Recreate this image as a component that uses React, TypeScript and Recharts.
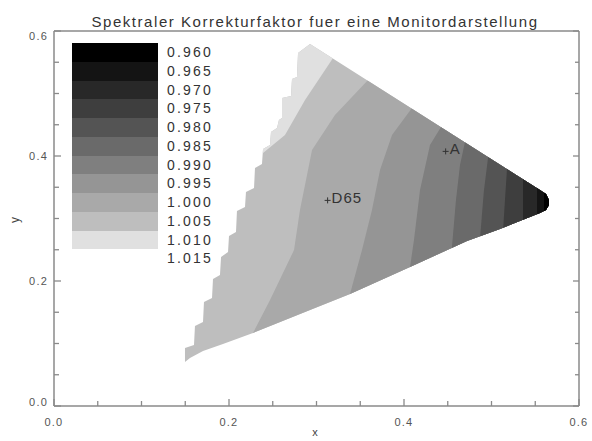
import React from 'react';
import { ScatterChart, Scatter, XAxis, YAxis } from 'recharts';

type Pt = { x: number; y: number };

const chartTitle = 'Spektraler Korrekturfaktor fuer eine Monitordarstellung';
const xAxisTitle = 'x';
const yAxisTitle = 'y';

// legend levels (top to bottom) and their grey fills
const levelLabels = ['0.960', '0.965', '0.970', '0.975', '0.980', '0.985', '0.990', '0.995', '1.000', '1.005', '1.010', '1.015'];
const levelGrays = ['#000000', '#141414', '#282828', '#3e3e3e', '#545454', '#6a6a6a', '#7f7f7f', '#959595', '#a9a9a9', '#bebebe', '#e0e0e0', '#ffffff'];

const axisTickValues = [0, 0.05, 0.1, 0.15, 0.2, 0.25, 0.3, 0.35, 0.4, 0.45, 0.5, 0.55, 0.6];
const labeledTickValues = [0, 0.2, 0.4, 0.6];

// monitor gamut outline (CIE x, y), stepped left edge
const gamutOutline: Pt[] = [
  { x: 0.2926, y: 0.5792 },
  { x: 0.5554, y: 0.3456 },
  { x: 0.5623, y: 0.3392 },
  { x: 0.5657, y: 0.3296 },
  { x: 0.5657, y: 0.3216 },
  { x: 0.5623, y: 0.3136 },
  { x: 0.5554, y: 0.3088 },
  { x: 0.5097, y: 0.2832 },
  { x: 0.472, y: 0.264 },
  { x: 0.4069, y: 0.2224 },
  { x: 0.3383, y: 0.1792 },
  { x: 0.2926, y: 0.1536 },
  { x: 0.2274, y: 0.1168 },
  { x: 0.1931, y: 0.0992 },
  { x: 0.1703, y: 0.088 },
  { x: 0.1554, y: 0.0768 },
  { x: 0.1497, y: 0.0704 },
  { x: 0.1497, y: 0.0928 },
  { x: 0.16, y: 0.0976 },
  { x: 0.1611, y: 0.128 },
  { x: 0.1703, y: 0.1344 },
  { x: 0.1714, y: 0.1664 },
  { x: 0.1806, y: 0.1728 },
  { x: 0.1817, y: 0.2032 },
  { x: 0.1897, y: 0.2096 },
  { x: 0.1909, y: 0.2384 },
  { x: 0.1989, y: 0.2464 },
  { x: 0.2, y: 0.272 },
  { x: 0.208, y: 0.2784 },
  { x: 0.2091, y: 0.312 },
  { x: 0.2183, y: 0.3184 },
  { x: 0.2194, y: 0.3424 },
  { x: 0.2286, y: 0.3488 },
  { x: 0.2297, y: 0.3808 },
  { x: 0.2377, y: 0.3872 },
  { x: 0.2389, y: 0.4112 },
  { x: 0.2469, y: 0.4176 },
  { x: 0.248, y: 0.4384 },
  { x: 0.2549, y: 0.4448 },
  { x: 0.2571, y: 0.4576 },
  { x: 0.2606, y: 0.4608 },
  { x: 0.2606, y: 0.4928 },
  { x: 0.2709, y: 0.496 },
  { x: 0.272, y: 0.5232 },
  { x: 0.2777, y: 0.5264 },
  { x: 0.2789, y: 0.5648 },
];

// region above the 1.010 / 1.005 contour (near the green primary)
const region1010: Pt[] = [
  { x: 0.3326, y: 0.5776 },
  { x: 0.3189, y: 0.5568 },
  { x: 0.2869, y: 0.4896 },
  { x: 0.264, y: 0.4336 },
  { x: 0.2389, y: 0.4048 },
  { x: 0.2, y: 0.4048 },
  { x: 0.2, y: 0.6 },
  { x: 0.3326, y: 0.6 },
];

// contour lines, from the upper edge down to the lower edge
const contour1000: Pt[] = [
  { x: 0.3726, y: 0.5408 }, { x: 0.3589, y: 0.5216 }, { x: 0.3211, y: 0.4656 }, { x: 0.2949, y: 0.4096 },
  { x: 0.2811, y: 0.3136 }, { x: 0.2743, y: 0.2496 }, { x: 0.2469, y: 0.1696 }, { x: 0.2274, y: 0.1168 }, { x: 0.2126, y: 0.0736 },
];
const contour0995: Pt[] = [
  { x: 0.424, y: 0.4896 }, { x: 0.4091, y: 0.4768 }, { x: 0.3863, y: 0.4336 }, { x: 0.3726, y: 0.3776 },
  { x: 0.3634, y: 0.3136 }, { x: 0.352, y: 0.2496 }, { x: 0.3383, y: 0.1792 }, { x: 0.3326, y: 0.1456 },
];
const contour0990: Pt[] = [
  { x: 0.4526, y: 0.4656 }, { x: 0.4423, y: 0.4464 }, { x: 0.4297, y: 0.4176 }, { x: 0.4183, y: 0.3456 },
  { x: 0.4114, y: 0.2656 }, { x: 0.4069, y: 0.2224 }, { x: 0.4046, y: 0.1936 },
];
const contour0985: Pt[] = [
  { x: 0.4777, y: 0.4416 }, { x: 0.4697, y: 0.4224 }, { x: 0.464, y: 0.3856 }, { x: 0.4594, y: 0.3296 },
  { x: 0.4549, y: 0.256 }, { x: 0.4537, y: 0.2304 },
];
const contour0980: Pt[] = [
  { x: 0.5006, y: 0.4176 }, { x: 0.496, y: 0.3968 }, { x: 0.4914, y: 0.3456 }, { x: 0.4869, y: 0.2688 }, { x: 0.4857, y: 0.2464 },
];
const contour0975: Pt[] = [
  { x: 0.5234, y: 0.3936 }, { x: 0.5177, y: 0.3792 }, { x: 0.5154, y: 0.3296 }, { x: 0.5131, y: 0.2784 }, { x: 0.512, y: 0.2576 },
];
const contour0970: Pt[] = [
  { x: 0.5406, y: 0.3776 }, { x: 0.536, y: 0.3632 }, { x: 0.536, y: 0.2928 }, { x: 0.536, y: 0.2656 },
];
const contour0965: Pt[] = [
  { x: 0.5554, y: 0.3648 }, { x: 0.552, y: 0.3488 }, { x: 0.552, y: 0.3056 }, { x: 0.552, y: 0.2736 },
];
const contour0960: Pt[] = [
  { x: 0.5623, y: 0.3536 }, { x: 0.56, y: 0.3408 }, { x: 0.56, y: 0.3088 }, { x: 0.56, y: 0.28 },
];

const rightCorners: Pt[] = [{ x: 0.6, y: 0 }, { x: 0.6, y: 0.6 }];

const whitePoints = [
  { x: 0.3127, y: 0.329, label: 'D65' },
  { x: 0.4476, y: 0.4074, label: 'A' },
];

const bands = [
  { key: 'b1000', pts: [...contour1000, ...rightCorners], fill: levelGrays[8] },
  { key: 'b0995', pts: [...contour0995, ...rightCorners], fill: levelGrays[7] },
  { key: 'b0990', pts: [...contour0990, ...rightCorners], fill: levelGrays[6] },
  { key: 'b0985', pts: [...contour0985, ...rightCorners], fill: levelGrays[5] },
  { key: 'b0980', pts: [...contour0980, ...rightCorners], fill: levelGrays[4] },
  { key: 'b0975', pts: [...contour0975, ...rightCorners], fill: levelGrays[3] },
  { key: 'b0970', pts: [...contour0970, ...rightCorners], fill: levelGrays[2] },
  { key: 'b0965', pts: [...contour0965, ...rightCorners], fill: levelGrays[1] },
  { key: 'b0960', pts: [...contour0960, ...rightCorners], fill: levelGrays[0] },
];

const FONT = '"Liberation Sans", Arial, Helvetica, sans-serif';
const AXIS_COLOR = '#8a8a8a';
const LABEL_COLOR = '#555555';

const EmptyShape = () => <g />;

const toPoints = (p: any) =>
  (p.points || []).map((pt: any) => `${pt.x},${pt.y}`).join(' ');

const outlineLine = (p: any) => {
  const pts = toPoints(p);
  return (
    <g>
      <defs>
        <clipPath id="gamutClip">
          <polygon points={pts} />
        </clipPath>
      </defs>
      <polygon points={pts} fill={levelGrays[9]} stroke="none" />
    </g>
  );
};

const bandLine = (fill: string) => (p: any) => (
  <polygon points={toPoints(p)} fill={fill} stroke="none" clipPath="url(#gamutClip)" />
);

const MarkerShape = (props: any) => {
  const { cx, cy, payload } = props;
  if (cx == null || cy == null) return <g />;
  return (
    <g>
      <line x1={cx - 3} x2={cx + 3} y1={cy} y2={cy} stroke="#333" strokeWidth={1} />
      <line x1={cx} x2={cx} y1={cy - 3} y2={cy + 3} stroke="#333" strokeWidth={1} />
      <text x={cx + 4} y={cy + 3} fontSize={15} fill="#333" fontFamily={FONT} letterSpacing={1}>
        {payload.label}
      </text>
    </g>
  );
};

const isMajor = (v: number) => labeledTickValues.some((t) => Math.abs(t - v) < 1e-9);

const BottomTick = (props: any) => {
  const { x, y, payload } = props;
  const v = payload.value;
  const major = isMajor(v);
  return (
    <g>
      <line x1={x} x2={x} y1={y} y2={y - (major ? 7 : 5)} stroke={AXIS_COLOR} strokeWidth={1.3} />
      {major && (
        <text x={x} y={y + 20} textAnchor="middle" fontSize={11} fill={LABEL_COLOR} fontFamily={FONT} letterSpacing={1.2}>
          {v.toFixed(1)}
        </text>
      )}
    </g>
  );
};

const LeftTick = (props: any) => {
  const { x, y, payload } = props;
  const v = payload.value;
  const major = isMajor(v);
  const shift = v >= 0.6 - 1e-9 ? 5 : v <= 1e-9 ? -4 : 0;
  return (
    <g>
      <line x1={x} x2={x + (major ? 7 : 5)} y1={y} y2={y} stroke={AXIS_COLOR} strokeWidth={1.3} />
      {major && (
        <text x={x - 6} y={y + 4 + shift} textAnchor="end" fontSize={11} fill={LABEL_COLOR} fontFamily={FONT} letterSpacing={1.2}>
          {v.toFixed(1)}
        </text>
      )}
    </g>
  );
};

const TopTick = (props: any) => {
  const { x, y, payload } = props;
  const major = isMajor(payload.value);
  return <line x1={x} x2={x} y1={y} y2={y + (major ? 6 : 4)} stroke={AXIS_COLOR} strokeWidth={1.3} />;
};

const RightTick = (props: any) => {
  const { x, y, payload } = props;
  const major = isMajor(payload.value);
  return <line x1={x} x2={x - (major ? 6 : 4)} y1={y} y2={y} stroke={AXIS_COLOR} strokeWidth={1.3} />;
};

const axisLineStyle = { stroke: AXIS_COLOR, strokeWidth: 1.5 };

export default function App() {
  return (
    <div style={{ position: 'absolute', left: 0, top: 0, width: 592, height: 441, background: '#ffffff', overflow: 'hidden' }}>
      <ScatterChart width={592} height={441} margin={{ top: 30, right: 12, bottom: 10, left: 10 }}>
        <XAxis
          xAxisId={0}
          type="number"
          dataKey="x"
          domain={[0, 0.6]}
          allowDataOverflow
          ticks={axisTickValues}
          interval={0}
          tickLine={false}
          tickSize={0}
          tickMargin={0}
          tick={BottomTick}
          height={25}
          axisLine={axisLineStyle}
        />
        <XAxis
          xAxisId="top"
          orientation="top"
          type="number"
          domain={[0, 0.6]}
          allowDataOverflow
          ticks={axisTickValues}
          interval={0}
          tickLine={false}
          tickSize={0}
          tickMargin={0}
          tick={TopTick}
          height={1}
          axisLine={axisLineStyle}
        />
        <YAxis
          yAxisId={0}
          type="number"
          dataKey="y"
          domain={[0, 0.6]}
          allowDataOverflow
          ticks={axisTickValues}
          interval={0}
          tickLine={false}
          tickSize={0}
          tickMargin={0}
          tick={LeftTick}
          width={44}
          axisLine={axisLineStyle}
        />
        <YAxis
          yAxisId="right"
          orientation="right"
          type="number"
          domain={[0, 0.6]}
          allowDataOverflow
          ticks={axisTickValues}
          interval={0}
          tickLine={false}
          tickSize={0}
          tickMargin={0}
          tick={RightTick}
          width={1}
          axisLine={axisLineStyle}
        />
        <Scatter
          name="gamut"
          data={gamutOutline}
          fill={levelGrays[9]}
          line={outlineLine}
          shape={EmptyShape}
          isAnimationActive={false}
        />
        <Scatter
          name="r1010"
          data={region1010}
          fill={levelGrays[10]}
          line={bandLine(levelGrays[10])}
          shape={EmptyShape}
          isAnimationActive={false}
        />
        {bands.map((b) => (
          <Scatter
            key={b.key}
            name={b.key}
            data={b.pts}
            fill={b.fill}
            line={bandLine(b.fill)}
            shape={EmptyShape}
            isAnimationActive={false}
          />
        ))}
        <Scatter name="whitepoints" data={whitePoints} fill="#333" shape={MarkerShape} isAnimationActive={false} />
      </ScatterChart>

      <div
        style={{
          position: 'absolute', left: 15, top: 13, width: 600, textAlign: 'center',
          fontFamily: FONT, fontSize: 15, lineHeight: '17px', letterSpacing: 1.55, color: '#333', whiteSpace: 'nowrap',
        }}
      >
        {chartTitle}
      </div>

      <div style={{ position: 'absolute', left: 72, top: 43, fontFamily: FONT }}>
        {levelLabels.map((lab, i) => (
          <div key={lab} style={{ display: 'flex', alignItems: 'center', height: 18.75 }}>
            <div style={{ width: 86, height: 18.75, background: levelGrays[i] }} />
            <div style={{ marginLeft: 9, fontSize: 14, letterSpacing: 2.2, color: '#333', lineHeight: '18.75px' }}>{lab}</div>
          </div>
        ))}
      </div>

      <div
        style={{
          position: 'absolute', left: 15, top: 220, transform: 'translate(-50%, -50%) rotate(-90deg)',
          fontFamily: FONT, fontSize: 12, color: '#444',
        }}
      >
        {yAxisTitle}
      </div>
      <div
        style={{
          position: 'absolute', left: 315, top: 432, transform: 'translate(-50%, -50%)',
          fontFamily: FONT, fontSize: 11, lineHeight: '12px', color: '#444',
        }}
      >
        {xAxisTitle}
      </div>
    </div>
  );
}
